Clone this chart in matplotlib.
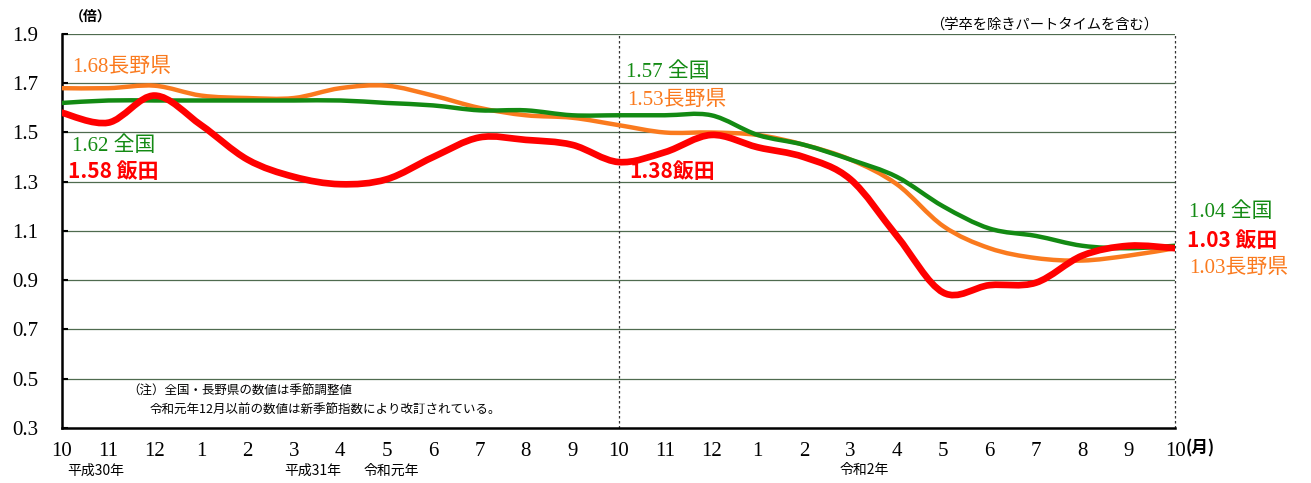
"""有効求人倍率の推移（全国・長野県・飯田）"""
import matplotlib

matplotlib.use("Agg")

import matplotlib.pyplot as plt
import numpy as np
from matplotlib.patches import PathPatch
from matplotlib.path import Path

JP = "Noto Sans CJK JP"
SERIF = "Liberation Serif"

GREEN = "#138a13"
ORANGE = "#fa7a1e"
RED = "#ff0000"
GRID = "#4f6b4f"

months = ["10", "11", "12", "1", "2", "3", "4", "5", "6", "7", "8", "9",
          "10", "11", "12", "1", "2", "3", "4", "5", "6", "7", "8", "9", "10"]

zenkoku = [1.62, 1.63, 1.63, 1.63, 1.63, 1.63, 1.63, 1.62, 1.61, 1.59, 1.59, 1.57,
           1.57, 1.57, 1.57, 1.49, 1.45, 1.39, 1.32, 1.20, 1.11, 1.08, 1.04, 1.03, 1.04]
nagano = [1.68, 1.68, 1.69, 1.65, 1.64, 1.64, 1.68, 1.69, 1.65, 1.60, 1.57, 1.56,
          1.53, 1.50, 1.50, 1.49, 1.45, 1.39, 1.29, 1.12, 1.03, 0.99, 0.98, 1.00, 1.03]
iida = [1.58, 1.54, 1.65, 1.53, 1.39, 1.32, 1.29, 1.31, 1.40, 1.48, 1.47, 1.45,
        1.38, 1.42, 1.49, 1.44, 1.40, 1.31, 1.08, 0.85, 0.88, 0.89, 1.00, 1.04, 1.03]

era_labels = [(0.72, "平成30年"), (5.4, "平成31年"), (7.1, "令和元年"), (17.3, "令和2年")]


def smooth_path(xs, ys):
    # Catmull-Rom -> cubic Bezier, like Excel's smoothed line
    pts = np.column_stack([xs, ys]).astype(float)
    n = len(pts)
    verts = [pts[0]]
    codes = [Path.MOVETO]
    for i in range(n - 1):
        p0 = pts[max(i - 1, 0)]
        p1 = pts[i]
        p2 = pts[i + 1]
        p3 = pts[min(i + 2, n - 1)]
        c1 = p1 + (p2 - p0) / 6
        c2 = p2 - (p3 - p1) / 6
        verts += [c1, c2, p2]
        codes += [Path.CURVE4] * 3
    return Path(verts, codes)


fig = plt.figure(figsize=(13.11, 4.83), dpi=100)
ax = fig.add_axes([0.0473, 0.1139, 0.849, 0.8157])

x = np.arange(len(months))
for ys, col, lw, z in [(nagano, ORANGE, 3.2, 3), (zenkoku, GREEN, 3.2, 4), (iida, RED, 4.8, 5)]:
    ax.add_patch(PathPatch(smooth_path(x, ys), fill=False, edgecolor=col, lw=lw,
                           capstyle="round", joinstyle="round", zorder=z))

ax.set_xlim(0, len(months) - 1)
ax.set_ylim(0.3, 1.9)
ax.set_yticks(np.arange(0.3, 1.91, 0.2))
ax.set_yticklabels([f"{v:.1f}" for v in np.arange(0.3, 1.91, 0.2)],
                   family=SERIF, fontsize=15)
ax.set_xticks(x)
ax.set_xticklabels(months, family=SERIF, fontsize=15)
ax.tick_params(axis="y", direction="in", length=4, width=1.5, pad=17)
ax.tick_params(axis="x", length=0, pad=10)

for v in np.arange(0.5, 1.91, 0.2):
    ax.axhline(v, color=GRID, lw=0.9, zorder=1)
for xv in [12, 24]:
    ax.axvline(xv, color="#333333", lw=0.9, ls=(0, (2, 2)), zorder=1, clip_on=False)

for s in ["top", "right"]:
    ax.spines[s].set_visible(False)
ax.spines["left"].set_linewidth(1.8)
ax.spines["bottom"].set_linewidth(1.8)


def label(xp, yp, s, col, size=14, bold=False, fam=None):
    fig.text(xp / 1311, 1 - yp / 483, s, color=col, fontsize=size,
             fontweight="bold" if bold else "normal",
             family=fam or [SERIF, JP], va="center", ha="left")


label(72, 67, "1.68長野県", ORANGE, 15)
label(72, 146, "1.62 全国", GREEN, 15)
label(68, 171, "1.58 飯田", RED, 15, bold=True, fam=[JP])
label(626, 72, "1.57 全国", GREEN, 15)
label(627, 100, "1.53長野県", ORANGE, 15)
label(629, 172, "1.38飯田", RED, 15, bold=True, fam=[JP])
label(1189, 212, "1.04 全国", GREEN, 15)
label(1187, 240, "1.03 飯田", RED, 15, bold=True, fam=[JP])
label(1189, 268, "1.03長野県", ORANGE, 15)

label(70, 17, "（倍）", "black", 10, bold=True, fam=[JP])
label(930, 25, "（学卒を除きパートタイムを含む）", "black", 10.3, fam=[JP])
label(127, 391, "（注）全国・長野県の数値は季節調整値", "black", 9, fam=[JP])
label(150, 410, "令和元年12月以前の数値は新季節指数により改訂されている。", "black", 9, fam=[JP])
label(1186, 448, "(月)", "black", 12, bold=True, fam=[JP])

for xv, s in era_labels:
    ax.text(xv, -0.09, s, transform=ax.get_xaxis_transform(), ha="center", va="top",
            fontsize=10, family=JP)

fig.savefig("out.png", dpi=100)
